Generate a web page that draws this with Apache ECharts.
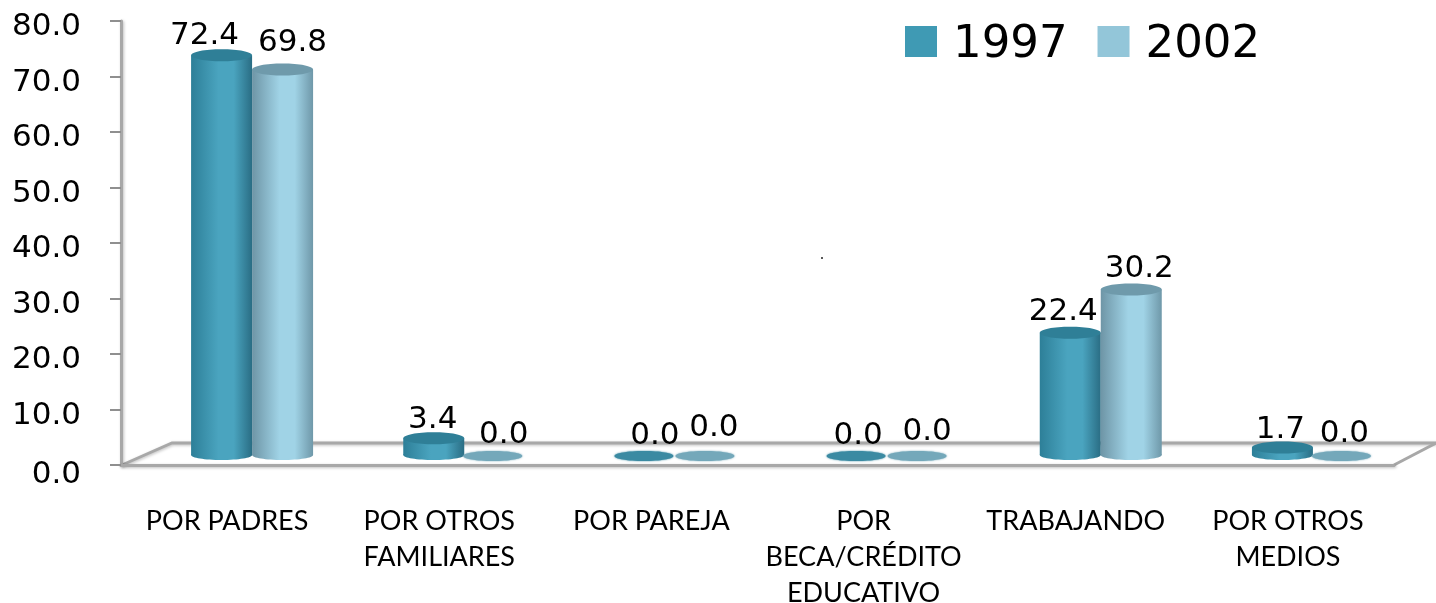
<!DOCTYPE html>
<html><head><meta charset="utf-8">
<style>html,body{margin:0;padding:0;background:#fff}#c{width:1436px;height:603px}</style>
<script src="https://cdn.jsdelivr.net/npm/echarts@6/dist/echarts.min.js"></script>
</head><body><div id="c"></div>
<script>
const categories = ['POR PADRES','POR OTROS\nFAMILIARES','POR PAREJA','POR\nBECA/CRÉDITO\nEDUCATIVO','TRABAJANDO','POR OTROS\nMEDIOS'];
const values1997 = [72.4,3.4,0.0,0.0,22.4,1.7];
const values2002 = [69.8,0.0,0.0,0.0,30.2,0.0];
const valueTicks = {min:0,max:80,interval:10};

// hand-placed label nudges (dx,dy), as in the original chart
const nudge1997 = [[-17,2],[-1,3],[9,-6],[0,-6],[-7,1],[-2,4]];
const nudge2002 = [[10,-5],[9,-7],[7,-14],[8,-10],[8,1],[1,-8]];

const DX = 25, DY = -7, BW = 61;
function cylinder(colors, capColor, flatColor, nudge, side){
  return function(params, api){
    const i = api.value(0), v = api.value(1);
    const top = api.coord([i, v]), base = api.coord([i, 0]);
    const x = top[0] + DX + (side < 0 ? -BW : 0);
    const yT = top[1] + DY - 1, yB = base[1] + DY;
    const cx = x + BW/2;
    const kids = [];
    const txt = {type:'text', z2:10, style:{text:v.toFixed(1), x:cx+nudge[i][0], y:yT-(v>0?6:0)+nudge[i][1],
      textAlign:'center', textVerticalAlign:'bottom', fontFamily:'DejaVu Sans', fontSize:31, fill:'#000'}};
    if (v === 0) {
      kids.push({type:'ellipse', shape:{cx:cx-2, cy:yB-2, rx:BW/2-1, ry:5}, style:{fill:flatColor, shadowBlur:2, shadowColor:flatColor}});
    } else {
      const grad = new echarts.graphic.LinearGradient(0,0,1,0,[
        {offset:0,color:colors[0]},{offset:.45,color:colors[1]},{offset:.7,color:colors[1]},{offset:1,color:colors[2]}]);
      kids.push({type:'ellipse', shape:{cx, cy:yB-3, rx:BW/2, ry:5}, style:{fill:grad}});
      kids.push({type:'rect', shape:{x, y:yT, width:BW, height:yB-yT-3}, style:{fill:grad}});
      kids.push({type:'ellipse', shape:{cx, cy:yT, rx:BW/2, ry:6}, style:{fill:capColor}});
    }
    kids.push(txt);
    return {type:'group', children:kids};
  };
}
const c1997 = ['#2d7f98','#4aa4bf','#2a6d84'], c2002 = ['#6e95a6','#a0d3e6','#6f98a9'];
const grey = '#a8a8a8';
const soft = {shadowBlur:3, shadowOffsetX:1, shadowOffsetY:1, shadowColor:'rgba(0,0,0,0.25)'};
const chart = echarts.init(document.getElementById('c'), null, {renderer:'canvas'});
chart.setOption({
  animation:false,
  backgroundColor:'#fff',
  legend:{
    left:900, top:18, itemWidth:32, itemHeight:31, itemGap:30, icon:'rect',
    formatter:'{a|{name}}',
    textStyle:{fontFamily:'DejaVu Sans', fontSize:45, color:'#000', padding:[0,0,0,11],
      rich:{a:{fontFamily:'DejaVu Sans', fontSize:45, color:'#000', padding:[8,0,0,0]}}},
    data:['1997','2002']
  },
  grid:{left:121, right:42, top:21, bottom:138, outerBoundsMode:'none'},
  xAxis:{
    type:'category', data:categories,
    axisLine:{lineStyle:{color:grey,width:3,...soft}},
    axisTick:{length:12, lineStyle:{color:'#8f8f8f',width:2}},
    axisLabel:{interval:0, margin:38, fontFamily:'Lato', fontSize:27, lineHeight:36, color:'#000', verticalAlign:'top'}
  },
  yAxis:{
    type:'value', min:valueTicks.min, max:valueTicks.max, interval:valueTicks.interval,
    splitLine:{show:false},
    axisLine:{show:true, lineStyle:{color:grey,width:3,...soft}},
    axisTick:{show:true, length:11, lineStyle:{color:'#8f8f8f',width:2}},
    axisLabel:{margin:40, verticalAlign:'top', lineHeight:12, fontFamily:'DejaVu Sans', fontSize:31, color:'#000',
      formatter:v=>v===0?'{z|0.0}':v.toFixed(1),
      rich:{z:{fontFamily:'DejaVu Sans', fontSize:31, color:'#000', lineHeight:12, padding:[7,0,0,0]}}}
  },
  graphic:[
    {type:'polyline', silent:true, z:0, shape:{points:[[122,465],[172,443],[1436,443]]}, style:{stroke:grey,lineWidth:3,fill:null,...soft}},
    {type:'line', silent:true, z:0, shape:{x1:1394,y1:465,x2:1436,y2:443}, style:{stroke:grey,lineWidth:3}},
    {type:'circle', silent:true, shape:{cx:822,cy:258,r:1}, style:{fill:'#222'}}
  ],
  series:[
    {name:'1997', type:'custom', z:3, itemStyle:{color:'#3f9ab4'}, encode:{x:0,y:1},
      data:values1997.map((v,i)=>[i,v]),
      renderItem:cylinder(c1997,'#2f7f97','#3b8aa2',nudge1997,-1)},
    {name:'2002', type:'custom', z:3, itemStyle:{color:'#93c6d9'}, encode:{x:0,y:1},
      data:values2002.map((v,i)=>[i,v]),
      renderItem:cylinder(c2002,'#6f9aab','#74a8ba',nudge2002,1)}
  ]
});
</script></body></html>
